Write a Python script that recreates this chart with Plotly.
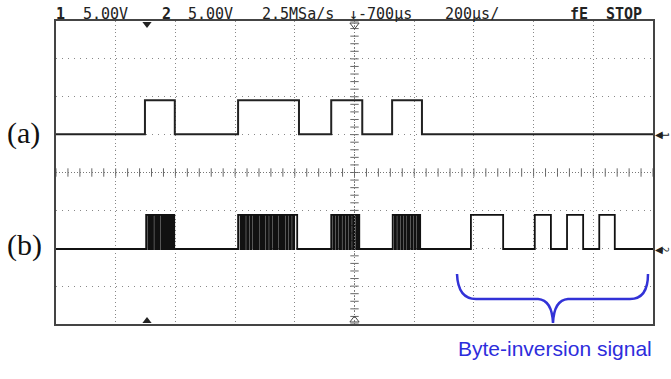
import plotly.graph_objects as go
import numpy as np

# ---------------- data (time in divisions, level in divisions) ----------------
a_low, a_high = 5.01, 5.91
b_low, b_high = 1.98, 2.88

# channel (a): rise/fall edges of the four pulses
a_edges = [1.49, 1.99, 3.05, 4.07, 4.61, 5.13, 5.63, 6.13]

# channel (b): encoded bursts (rise, fall pairs) followed by byte-inversion pulses
b_burst1 = [1.51, 1.545, 1.57, 1.60, 1.625, 1.66, 1.68, 1.71, 1.735, 1.77,
            1.79, 1.82, 1.845, 1.875, 1.90, 1.93, 1.95, 1.98]
b_burst2 = [3.05, 3.09, 3.11, 3.14, 3.165, 3.20, 3.22, 3.255, 3.275, 3.31,
            3.33, 3.36, 3.385, 3.42, 3.44, 3.47, 3.495, 3.53, 3.55, 3.585,
            3.605, 3.64, 3.66, 3.69, 3.715, 3.75, 3.77, 3.80, 3.825, 3.86,
            3.88, 3.915, 3.935, 3.97, 3.99, 4.04]
b_burst3 = [4.61, 4.645, 4.665, 4.70, 4.72, 4.755, 4.775, 4.81, 4.83, 4.865,
            4.885, 4.92, 4.94, 4.975, 4.995, 5.03, 5.05, 5.08]
b_burst4 = [5.64, 5.675, 5.695, 5.73, 5.75, 5.785, 5.805, 5.84, 5.86, 5.895,
            5.915, 5.95, 5.97, 6.005, 6.025, 6.06, 6.075, 6.10]
b_inversion = [6.95, 7.49, 8.02, 8.29, 8.56, 8.83, 9.10, 9.36]

header_texts = ["<b>1</b>", "5.00V", "<b>2</b>", "5.00V", "2.5MSa/s",
                "↓-700µs", "200µs/", "<b>fE</b>", "<b>STOP</b>"]
header_px = [54, 81, 160, 186, 260, 347, 443, 568, 604]

# ---------------- helpers ----------------
L, R, T, B = 56, 653, 21, 324
def X(px):
    return (px - L) / ((R - L) / 10)
def Y(py):
    return (B - py) / ((B - T) / 8)
def PX(px):
    return (px - L) / (R - L)
def PY(py):
    return (B - py) / (B - T)

def step(edges, lo, hi):
    xs, ys = [0.0], [lo]
    for i in range(0, len(edges), 2):
        r, f = edges[i], edges[i + 1]
        xs += [r, r, f, f]
        ys += [lo, hi, hi, lo]
    xs.append(10.0)
    ys.append(lo)
    return xs, ys

fig = go.Figure()

# center graticule ticks
tk = np.arange(0, 10.001, 0.2)
fig.add_trace(go.Scatter(x=tk, y=[4] * len(tk), mode="markers",
                         marker=dict(symbol="line-ns", size=6, line=dict(width=1, color="#666")),
                         hoverinfo="skip", showlegend=False))
tky = np.arange(0, 8.001, 0.2)
fig.add_trace(go.Scatter(x=[5] * len(tky), y=tky, mode="markers",
                         marker=dict(symbol="line-ew", size=6, line=dict(width=1, color="#666")),
                         hoverinfo="skip", showlegend=False))

xa, ya = step(a_edges, a_low, a_high)
fig.add_trace(go.Scatter(x=xa, y=ya, mode="lines", line=dict(color="#222", width=2),
                         showlegend=False))
xb, yb = step(b_burst1 + b_burst2 + b_burst3 + b_burst4 + b_inversion, b_low, b_high)
fig.add_trace(go.Scatter(x=xb, y=yb, mode="lines", line=dict(color="#111", width=1.8),
                         showlegend=False))

# frame markers
fig.add_trace(go.Scatter(x=[X(147)], y=[Y(24)], mode="markers",
                         marker=dict(symbol="triangle-down", size=8, color="#222"),
                         cliponaxis=False, showlegend=False))
fig.add_trace(go.Scatter(x=[X(147)], y=[Y(321)], mode="markers",
                         marker=dict(symbol="triangle-up", size=8, color="#222"),
                         cliponaxis=False, showlegend=False))
fig.add_trace(go.Scatter(x=[5, 5], y=[Y(25), Y(320)], mode="markers",
                         marker=dict(symbol=["triangle-down-open", "triangle-up-open"], size=8,
                                     color="#444", line=dict(width=1)),
                         cliponaxis=False, showlegend=False))

# center lines
fig.add_shape(type="line", x0=5, x1=5, y0=0, y1=8, line=dict(color="#777", width=1, dash="1px,2px"))
fig.add_shape(type="line", x0=0, x1=10, y0=4, y1=4, line=dict(color="#777", width=1, dash="1px,2px"))

# brace
pts = [(457, 274), (458, 299), (476, 299), (538, 299), (552, 300), (553, 323),
       (554, 300), (568, 299), (630, 299), (648, 299), (648, 274)]
p = [(X(u), Y(v)) for u, v in pts]
path = (f"M {p[0][0]},{p[0][1]} Q {p[1][0]},{p[1][1]} {p[2][0]},{p[2][1]} "
        f"L {p[3][0]},{p[3][1]} Q {p[4][0]},{p[4][1]} {p[5][0]},{p[5][1]} "
        f"Q {p[6][0]},{p[6][1]} {p[7][0]},{p[7][1]} L {p[8][0]},{p[8][1]} "
        f"Q {p[9][0]},{p[9][1]} {p[10][0]},{p[10][1]}")
fig.add_shape(type="path", path=path, line=dict(color="rgb(50,50,215)", width=2.5))

# right-side channel markers
for lvl, t in [(a_low, "1"), (b_low, "2")]:
    fig.add_annotation(x=PX(653), y=(lvl / 8), xref="paper", yref="paper", text="◀",
                       showarrow=False, xanchor="left", yanchor="middle",
                       font=dict(family="DejaVu Sans", size=10, color="#222"))
    fig.add_annotation(x=PX(665), y=(lvl / 8), xref="paper", yref="paper", text=t,
                       showarrow=False, textangle=90, xanchor="center", yanchor="middle",
                       font=dict(family="DejaVu Sans Mono", size=9, color="#222"))

# header texts
for t, px in zip(header_texts, header_px):
    fig.add_annotation(x=PX(px), y=PY(14), text=t, showarrow=False, xanchor="left",
                       yanchor="middle", xref="paper", yref="paper",
                       font=dict(family="DejaVu Sans Mono", size=15, color="#222"))

fig.add_annotation(x=PX(23), y=PY(133), xref="paper", yref="paper", text="(a)", showarrow=False,
                   xanchor="center", yanchor="middle",
                   font=dict(family="Liberation Serif", size=30, color="#111"))
fig.add_annotation(x=PX(24), y=PY(245), xref="paper", yref="paper", text="(b)", showarrow=False,
                   xanchor="center", yanchor="middle",
                   font=dict(family="Liberation Serif", size=30, color="#111"))
fig.add_annotation(x=PX(555), y=PY(348), xref="paper", yref="paper",
                   text="Byte-inversion signal", showarrow=False,
                   xanchor="center", yanchor="middle",
                   font=dict(family="Liberation Sans", size=21, color="rgb(45,45,220)"))

fig.update_xaxes(range=[0, 10], dtick=1, showgrid=True, gridcolor="#888", gridwidth=1,
                 griddash="1px,2.8px", showline=True, mirror=True, linecolor="#444",
                 linewidth=2, showticklabels=False, ticks="", zeroline=False)
fig.update_yaxes(range=[0, 8], dtick=1, showgrid=True, gridcolor="#888", gridwidth=1,
                 griddash="1px,5px", showline=True, mirror=True, linecolor="#444",
                 linewidth=2, showticklabels=False, ticks="", zeroline=False)

fig.update_layout(width=671, height=379, margin=dict(l=L, r=671 - R, t=T, b=379 - B),
                  paper_bgcolor="white", plot_bgcolor="white")

fig.write_html("out.html")
